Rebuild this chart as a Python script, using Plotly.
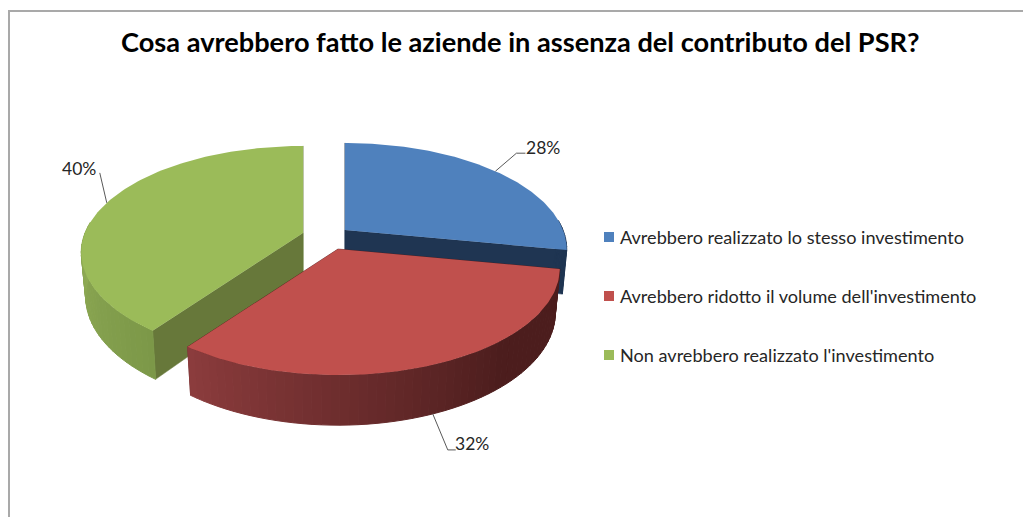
import math
import plotly.graph_objects as go

# data
title = "Cosa avrebbero fatto le aziende in assenza del contributo del PSR?"
labels = ["Avrebbero realizzato lo stesso investimento",
          "Avrebbero ridotto il volume dell'investimento",
          "Non avrebbero realizzato l'investimento"]
values = [28, 32, 40]
top_colors = ["#4f81bd", "#c0504d", "#9bbb59"]
face_colors = ["#1f3552", "#4c1d1d", "#67783a"]

# wall shading as (angle, colour) stops
wall_stops = [
    [(0, "#1f3552"), (360, "#1f3552")],
    [(0, "#4c1d1d"), (140, "#4c1d1d"), (216, "#8c3c3d"), (360, "#8c3c3d")],
    [(0, "#7c9848"), (216, "#7c9848"), (270, "#8fab55"), (360, "#8fab55")],
]

# pie geometry (pixels), perspective tilt and exploded offsets
CX, CY = 330, 240
A, B, K = 218, 103, 0.183
DEPTH, SHRINK = 43, 0.02
pull = [(15, -10), (8, 9), (-27, -7)]
# leader line offsets from the slice edge, and the label offset
leaders = [[(21, -18), (30, -18)], [(15, 36), (23, 36)], [(-7, -30)]]
label_off = [(48, -24), (39, 30), (-28, -34)]
FONT = "Lato"
TEXT = "#262626"


def project(i, deg, bottom=False):
    t = math.radians(deg)
    w = 1 + K * math.cos(t)
    ox, oy = CX + pull[i][0], CY + pull[i][1]
    s = 1 - SHRINK if bottom else 1
    x = ox + s * A * math.sin(t) / w
    y = oy - s * B * math.cos(t) / w + (DEPTH / w if bottom else 0)
    return x, y


def apex(i, bottom=False):
    ox, oy = CX + pull[i][0], CY + pull[i][1]
    return ox, oy + (DEPTH if bottom else 0)


def mix(stops, deg):
    for (a0, c0), (a1, c1) in zip(stops, stops[1:]):
        if a0 <= deg <= a1:
            f = (deg - a0) / (a1 - a0)
            rgb = [round(int(c0[j:j + 2], 16) * (1 - f) + int(c1[j:j + 2], 16) * f) for j in (1, 3, 5)]
            return "rgb(%d,%d,%d)" % tuple(rgb)
    return stops[-1][1]


def poly(pts, color, width=0):
    xs = [p[0] for p in pts] + [pts[0][0]]
    ys = [p[1] for p in pts] + [pts[0][1]]
    return go.Scatter(x=xs, y=ys, mode="lines", fill="toself", fillcolor=color,
                      line=dict(color=color, width=width), hoverinfo="skip", showlegend=False)


fig = go.Figure()

# slice angles
starts, c = [], 0
for v in values:
    starts.append(c)
    c += v * 3.6

# painter's order: green, blue, red
for i in [2, 0, 1]:
    a0, a1 = starts[i], starts[i] + values[i] * 3.6
    steps = max(2, int((a1 - a0) / 2))
    angles = [a0 + (a1 - a0) * n / steps for n in range(steps + 1)]
    # cut faces
    for edge in (a0, a1):
        fig.add_trace(poly([apex(i), project(i, edge), project(i, edge, True), apex(i, True)],
                           face_colors[i], 0.5))
    # outer wall, only the part turned towards the viewer
    for d0, d1 in zip(angles, angles[1:]):
        if math.cos(math.radians((d0 + d1) / 2)) < 0.1:
            fig.add_trace(poly([project(i, d0), project(i, d1), project(i, d1, True), project(i, d0, True)],
                               mix(wall_stops[i], (d0 + d1) / 2), 1))
    # top surface
    arc = [a0 + (a1 - a0) * n / 120 for n in range(121)]
    fig.add_trace(poly([apex(i)] + [project(i, d) for d in arc], top_colors[i]))

notes = []

# leader lines and value labels
for i, v in enumerate(values):
    mid = starts[i] + v * 1.8
    bottom = math.cos(math.radians(mid)) < -0.5
    x0, y0 = project(i, mid, bottom)
    xs = [x0] + [x0 + dx for dx, dy in leaders[i]]
    ys = [y0] + [y0 + dy for dx, dy in leaders[i]]
    fig.add_trace(go.Scatter(x=xs, y=ys, mode="lines", line=dict(color="#595959", width=1),
                             hoverinfo="skip", showlegend=False))
    notes.append(dict(x=x0 + label_off[i][0], y=y0 + label_off[i][1], text=f"{v}%", showarrow=False,
                      font=dict(family=FONT, size=17.5, color=TEXT)))

# legend
LEG_X, LEG_TEXT_X, LEG_Y, LEG_STEP = 609, 618, 237, 59
for i, name in enumerate(labels):
    fig.add_trace(go.Scatter(x=[LEG_X], y=[LEG_Y + i * LEG_STEP], mode="markers",
                             marker=dict(symbol="square", size=10, color=top_colors[i]),
                             hoverinfo="skip", showlegend=False))
    notes.append(dict(x=LEG_TEXT_X, y=LEG_Y + i * LEG_STEP, text=name, showarrow=False, xanchor="left",
                      font=dict(family=FONT, size=18.1, color=TEXT)))

notes.append(dict(x=520.5, y=41, text=f"<b>{title}</b>", showarrow=False,
                  font=dict(family=FONT, size=27.2, color="black")))

fig.update_layout(
    width=1023, height=517, margin=dict(l=0, r=0, t=0, b=0),
    paper_bgcolor="white", plot_bgcolor="white", showlegend=False,
    xaxis=dict(range=[0, 1023], visible=False, fixedrange=True),
    yaxis=dict(range=[517, 0], visible=False, fixedrange=True),
    annotations=notes,
    shapes=[
        dict(type="line", x0=9, x1=9, y0=11, y1=517, line=dict(color="#a9a9a9", width=2)),
        dict(type="line", x0=8, x1=1023, y0=11, y1=11, line=dict(color="#a9a9a9", width=2)),
    ],
)

# the page body has a default margin that would push the figure off
fig.write_html("out.html", config={"displayModeBar": False},
               post_script="document.body.style.margin='0';")
